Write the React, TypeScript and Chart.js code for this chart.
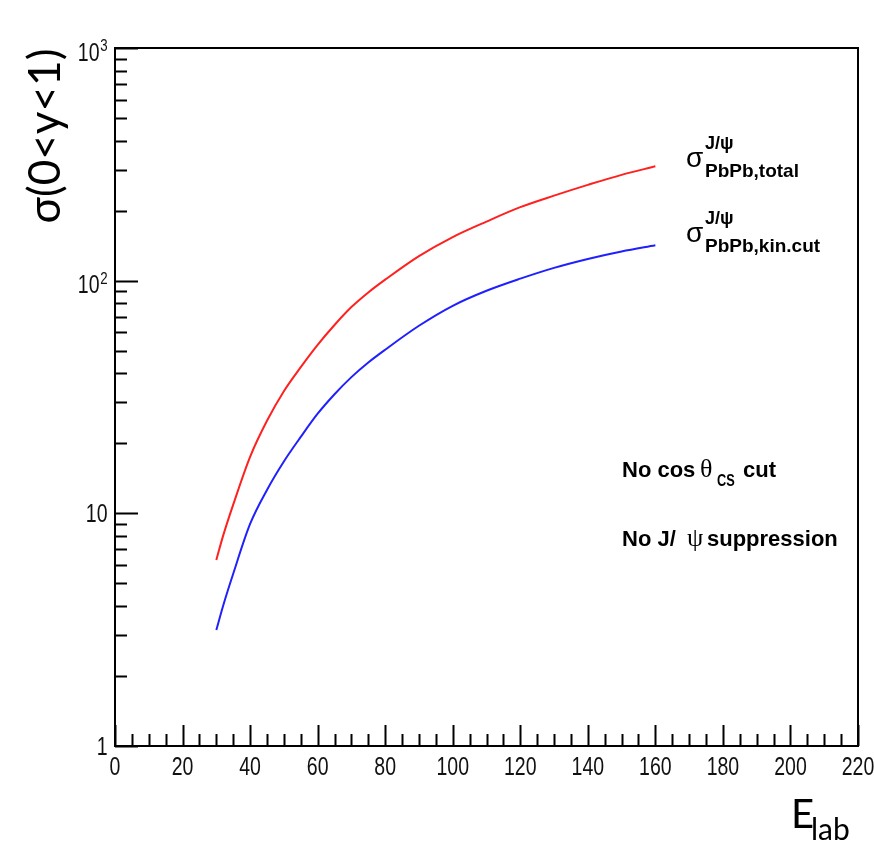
import React, { useEffect, useRef } from 'react';
import { Chart, registerables } from 'chart.js';

Chart.register(...registerables);

// Beam energy (x) and cross sections (y, log scale)
const energies = [30, 32, 35, 40, 45, 50, 55, 60, 65, 70, 75, 80, 90, 100, 110, 120, 130, 140, 150, 160];
const sigmaTotal = [6.3, 8.0, 10.9, 17.5, 25, 33.5, 42.5, 53, 64.5, 77, 89, 101, 127.5, 154, 179.5, 207, 232, 258, 285, 310];
const sigmaKinCut = [3.15, 4.0, 5.5, 9.0, 12.6, 16.7, 21.3, 26.8, 32.5, 38.5, 44.5, 50.5, 64, 78, 90.5, 102, 113.5, 124, 133.5, 142];

const xMajorTicks = [0, 20, 40, 60, 80, 100, 120, 140, 160, 180, 200, 220];
const xMinorStep = 5;
const yDecades = [1, 10, 100, 1000];
const yDecadeBase = ['1', '10', '10', '10'];
const yDecadeExp = ['', '', '2', '3'];

const SANS = "'Liberation Sans', Arial, sans-serif";

function condensedText(ctx: any, text: string, x: number, y: number, size: number, align: string) {
  ctx.save();
  ctx.font = `${size}px ${SANS}`;
  ctx.textAlign = align;
  ctx.textBaseline = 'alphabetic';
  ctx.translate(x, y);
  ctx.scale(0.78, 1);
  ctx.fillText(text, 0, 0);
  ctx.restore();
}

const decorPlugin = {
  id: 'decor',
  afterDraw(chart: any) {
    const { ctx, chartArea: a, scales } = chart;
    const x = scales.x;
    const y = scales.y;
    ctx.save();
    ctx.strokeStyle = '#000';
    ctx.lineWidth = 2;
    // frame
    ctx.strokeRect(a.left, a.top, a.right - a.left, a.bottom - a.top);
    // x ticks (inside, bottom)
    ctx.beginPath();
    for (let v = xMajorTicks[0]; v <= xMajorTicks[xMajorTicks.length - 1]; v += xMinorStep) {
      const px = Math.round(x.getPixelForValue(v)) + 0.5;
      const len = xMajorTicks.includes(v) ? 21 : 12;
      ctx.moveTo(px, a.bottom);
      ctx.lineTo(px, a.bottom - len);
    }
    // y ticks (inside, left)
    for (let i = 0; i < yDecades.length; i++) {
      const d = yDecades[i];
      const maxM = i === yDecades.length - 1 ? 1 : 9;
      for (let m = 1; m <= maxM; m++) {
        const py = Math.round(y.getPixelForValue(m * d)) + 0.5;
        const len = m === 1 ? 23 : 12;
        ctx.moveTo(a.left, py);
        ctx.lineTo(a.left + len, py);
      }
    }
    ctx.stroke();

    ctx.fillStyle = '#111';
    // x tick labels
    xMajorTicks.forEach((v) => {
      condensedText(ctx, String(v), x.getPixelForValue(v), a.bottom + 29, 25, 'center');
    });
    // y tick labels
    yDecades.forEach((v, i) => {
      const py = y.getPixelForValue(v);
      if (yDecadeExp[i]) {
        condensedText(ctx, yDecadeBase[i], a.left - 15.5, py + 12.5, 25, 'right');
        condensedText(ctx, yDecadeExp[i], a.left - 7.5, py + 3, 17, 'right');
      } else {
        condensedText(ctx, yDecadeBase[i], a.left - 7.5, py + 9, 25, 'right');
      }
    });

    ctx.fillStyle = '#000';
    ctx.textAlign = 'left';
    ctx.textBaseline = 'alphabetic';

    // series labels
    const drawSigma = (yb: number, sub: string) => {
      ctx.font = `28px ${SANS}`;
      ctx.fillText('σ', 686, yb);
      ctx.font = `bold 18px ${SANS}`;
      ctx.fillText('J/ψ', 705, yb - 18);
      ctx.font = `bold 19px ${SANS}`;
      ctx.fillText(sub, 705, yb + 10);
    };
    drawSigma(167, 'PbPb,total');
    drawSigma(242, 'PbPb,kin.cut');

    // notes
    ctx.font = `bold 22px ${SANS}`;
    ctx.fillText('No cos', 622, 477);
    ctx.font = `26px 'Liberation Serif', serif`;
    ctx.fillText('θ', 700, 477);
    ctx.save();
    ctx.font = `bold 17px ${SANS}`;
    ctx.translate(717, 486);
    ctx.scale(0.75, 1);
    ctx.fillText('CS', 0, 0);
    ctx.restore();
    ctx.font = `bold 22px ${SANS}`;
    ctx.fillText('cut', 743, 477);

    ctx.fillText('No J/', 622, 546);
    ctx.font = `26px 'Liberation Serif', serif`;
    ctx.fillText('ψ', 687, 546);
    ctx.font = `bold 22px ${SANS}`;
    ctx.fillText('suppression', 707, 546);

    // x title
    ctx.font = `40px Lato, 'Open Sans', sans-serif`;
    ctx.fillText('E', 791, 828);
    ctx.font = `30px Lato, 'Open Sans', sans-serif`;
    ctx.fillText('lab', 811, 840);

    // y title
    ctx.save();
    ctx.translate(46, 136);
    ctx.rotate(-Math.PI / 2);
    const title = 'σ(0<y<1)';
    ctx.font = `40px Lato, 'Open Sans', sans-serif`;
    const w = ctx.measureText(title).width;
    const fs = (40 * 175) / w;
    ctx.font = `${fs}px Lato, 'Open Sans', sans-serif`;
    ctx.textAlign = 'center';
    ctx.textBaseline = 'middle';
    ctx.fillText(title, 0, 0);
    ctx.restore();

    ctx.restore();
  },
};

export default function App() {
  const ref = useRef<HTMLCanvasElement | null>(null);
  useEffect(() => {
    if (!ref.current) return;
    const chart = new Chart(ref.current, {
      type: 'line',
      data: {
        datasets: [
          {
            label: 'σ PbPb,total',
            data: energies.map((e, i) => ({ x: e, y: sigmaTotal[i] })),
            borderColor: '#ff2020',
            borderWidth: 2,
            pointRadius: 0,
            cubicInterpolationMode: 'monotone',
            fill: false,
          },
          {
            label: 'σ PbPb,kin.cut',
            data: energies.map((e, i) => ({ x: e, y: sigmaKinCut[i] })),
            borderColor: '#2020ff',
            borderWidth: 2,
            pointRadius: 0,
            cubicInterpolationMode: 'monotone',
            fill: false,
          },
        ],
      },
      options: {
        responsive: false,
        animation: false,
        devicePixelRatio: 1,
        layout: { padding: { left: 0, top: 48, right: 16, bottom: 0 } },
        plugins: { legend: { display: false }, tooltip: { enabled: false } },
        scales: {
          x: {
            type: 'linear',
            min: 0,
            max: 220,
            grid: { display: false, drawTicks: false },
            border: { display: false },
            ticks: { display: false },
            afterFit: (s: any) => {
              s.height = 98;
              s.paddingLeft = 0;
              s.paddingRight = 0;
            },
          },
          y: {
            type: 'logarithmic',
            min: 1,
            max: 1000,
            grid: { display: false, drawTicks: false },
            border: { display: false },
            ticks: { display: false },
            afterFit: (s: any) => {
              s.width = 115;
              s.paddingTop = 0;
              s.paddingBottom = 0;
            },
          },
        },
      },
      plugins: [decorPlugin],
    } as any);
    return () => chart.destroy();
  }, []);
  return (
    <div style={{ position: 'absolute', left: 0, top: 0, width: 874, height: 844, background: '#fff' }}>
      <canvas ref={ref} width={874} height={844} style={{ display: 'block' }} />
    </div>
  );
}
